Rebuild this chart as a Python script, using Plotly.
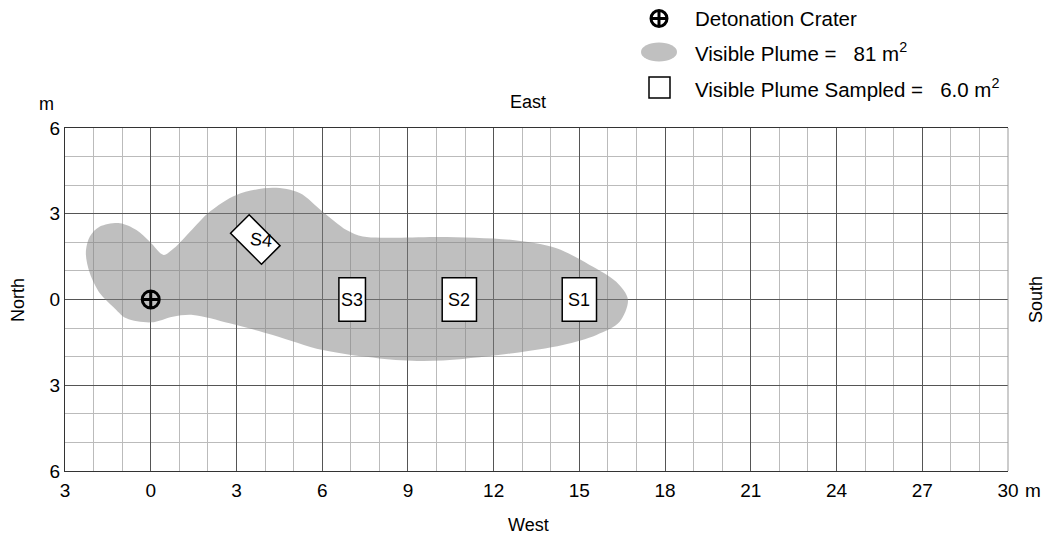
import numpy as np
import plotly.graph_objects as go

# ---------------- data ----------------
plume_x = [0.45, 0.80, 1.45, 2.06, 3.00, 4.27, 5.21, 6.02, 6.85, 7.42, 8.36, 10.10,
           12.67, 14.20, 15.36, 16.29, 16.70, 16.41, 15.60, 14.42, 12.67, 10.92,
           9.50, 8.00, 6.02, 4.27, 2.76, 1.48, 0.77, 0.02, -0.85, -1.32, -1.78,
           -2.13, -2.27, -2.13, -1.78, -1.08, -0.50, -0.03, 0.45]
plume_y = [1.56, 1.78, 2.45, 3.07, 3.66, 3.91, 3.73, 3.07, 2.43, 2.20, 2.16, 2.19,
           2.08, 1.79, 1.21, 0.62, 0.00, -0.78, -1.24, -1.59, -1.88, -2.08,
           -2.15, -2.06, -1.77, -1.24, -0.83, -0.54, -0.60, -0.80, -0.66, -0.25, 0.22,
           0.92, 1.62, 2.20, 2.55, 2.67, 2.43, 2.02, 1.56]

crater_x = [0.0]
crater_y = [0.0]

sample_names = ["S1", "S2", "S3", "S4"]
sample_cx = [15.0, 10.8, 7.05, 3.66]
sample_cy = [0.0, 0.0, 0.0, 2.10]
sample_w = [1.2, 1.2, 0.93, 0.92]
sample_h = [1.52, 1.52, 1.52, 1.53]
sample_rot = [0, 0, 0, 45]          # degrees, counter-clockwise
sample_label_x = [15.0, 10.8, 7.05, 3.87]
sample_label_y = [0.0, 0.0, 0.0, 2.07]
sample_textangle = [0, 0, 0, 6]

x_tickvals = list(range(-3, 31, 3))
x_ticktext = ["3", "0", "3", "6", "9", "12", "15", "18", "21", "24", "27", "30"]
y_tickvals = [-6, -3, 0, 3, 6]
y_ticktext = ["6", "3", "0", "3", "6"]

legend_labels = ["Detonation Crater",
                 "Visible Plume =\u00a0\u00a0 81 m<sup>2</sup>",
                 "Visible Plume Sampled =\u00a0\u00a0 6.0 m<sup>2</sup>"]

# ---------------- figure ----------------
FONT = "Liberation Sans, Arial, Helvetica, sans-serif"
W, H = 1045, 540
ML, MR, MT, MB = 65, 37, 128, 69
PW, PH = W - ML - MR, H - MT - MB


def px2paper(px, py):
    return (px - ML) / PW, (H - MB - py) / PH


fig = go.Figure()

fig.add_trace(go.Scatter(
    x=plume_x, y=plume_y, mode="lines", fill="toself",
    line=dict(shape="spline", smoothing=0.9, width=0, color="rgba(0,0,0,0)"),
    fillcolor="rgba(127,127,127,0.5)", hoverinfo="skip", showlegend=False))

fig.add_trace(go.Scatter(
    x=crater_x, y=crater_y, mode="markers",
    marker=dict(symbol="circle-cross-open", size=17, color="black",
                line=dict(width=3, color="black")),
    showlegend=False))

shapes = []
annotations = []

for name, cx, cy, w, h, rot, lx, ly, ta in zip(sample_names, sample_cx, sample_cy,
                                                sample_w, sample_h, sample_rot,
                                                sample_label_x, sample_label_y,
                                                sample_textangle):
    if rot == 0:
        shapes.append(dict(type="rect", xref="x", yref="y",
                           x0=cx - w / 2, x1=cx + w / 2,
                           y0=cy - h / 2, y1=cy + h / 2,
                           fillcolor="white", line=dict(color="black", width=1.5),
                           layer="above"))
    else:
        t = np.deg2rad(rot)
        corners = [(-w / 2, -h / 2), (w / 2, -h / 2), (w / 2, h / 2), (-w / 2, h / 2)]
        pts = [(cx + u * np.cos(t) - v * np.sin(t), cy + u * np.sin(t) + v * np.cos(t))
               for u, v in corners]
        path = "M " + " L ".join(f"{a:.4f},{b:.4f}" for a, b in pts) + " Z"
        shapes.append(dict(type="path", xref="x", yref="y", path=path,
                           fillcolor="white", line=dict(color="black", width=1.5),
                           layer="above"))
    annotations.append(dict(x=lx, y=ly, xref="x", yref="y", text=name,
                            showarrow=False, textangle=ta,
                            font=dict(family=FONT, size=18, color="black")))

# right border (light)
shapes.append(dict(type="line", xref="paper", yref="paper", x0=1, x1=1, y0=0, y1=1,
                   line=dict(color="#999999", width=1), layer="above"))

# ----- custom legend -----
ax, ay = px2paper(659, 18.5)
shapes.append(dict(type="circle", xref="paper", yref="paper", xsizemode="pixel",
                   ysizemode="pixel", xanchor=ax, yanchor=ay,
                   x0=-8, x1=8, y0=-8, y1=8, line=dict(color="black", width=3),
                   fillcolor="white"))
shapes.append(dict(type="line", xref="paper", yref="paper", xsizemode="pixel",
                   ysizemode="pixel", xanchor=ax, yanchor=ay,
                   x0=-8, x1=8, y0=0, y1=0, line=dict(color="black", width=3)))
shapes.append(dict(type="line", xref="paper", yref="paper", xsizemode="pixel",
                   ysizemode="pixel", xanchor=ax, yanchor=ay,
                   x0=0, x1=0, y0=-8, y1=8, line=dict(color="black", width=3)))
ax, ay = px2paper(659, 52)
shapes.append(dict(type="circle", xref="paper", yref="paper", xsizemode="pixel",
                   ysizemode="pixel", xanchor=ax, yanchor=ay,
                   x0=-18, x1=18, y0=-9.5, y1=9.5, line=dict(width=0),
                   fillcolor="#c0c0c0"))
ax, ay = px2paper(659.5, 87.5)
shapes.append(dict(type="rect", xref="paper", yref="paper", xsizemode="pixel",
                   ysizemode="pixel", xanchor=ax, yanchor=ay,
                   x0=-10.5, x1=10.5, y0=-10.5, y1=10.5,
                   line=dict(color="black", width=1.5), fillcolor="white"))

for lbl, py in zip(legend_labels, [18.5, 52, 88]):
    x, y = px2paper(693, py)
    annotations.append(dict(x=x, y=y, xref="paper", yref="paper", text=lbl,
                            showarrow=False, xanchor="left", yanchor="middle",
                            font=dict(family=FONT, size=20.5, color="black")))

# ----- axis words -----
def add_text(txt, px, py, angle=0, size=18):
    x, y = px2paper(px, py)
    annotations.append(dict(x=x, y=y, xref="paper", yref="paper", text=txt,
                            showarrow=False, textangle=angle,
                            xanchor="center", yanchor="middle",
                            font=dict(family=FONT, size=size, color="black")))

add_text("m", 46, 104)
add_text("East", 528, 102)
add_text("West", 528, 525)
add_text("North", 18, 300, angle=-90)
add_text("South", 1036, 300, angle=-90)
add_text("m", 1033, 490, size=19)

fig.update_layout(
    width=W, height=H, autosize=False,
    margin=dict(l=ML, r=MR, t=MT, b=MB, pad=0),
    paper_bgcolor="white", plot_bgcolor="white",
    shapes=shapes, annotations=annotations,
    showlegend=False,
    xaxis=dict(range=[-3, 30], tickvals=x_tickvals, ticktext=x_ticktext,
               showgrid=True, gridcolor="#555555", gridwidth=1,
               minor=dict(dtick=1, tick0=0, showgrid=True, gridcolor="#bbbbbb",
                          gridwidth=1),
               zeroline=False, showline=True, linecolor="#333333", linewidth=1,
               mirror=True, ticks="outside", ticklen=2,
               tickcolor="rgba(0,0,0,0)",
               tickfont=dict(family=FONT, size=19, color="black"), fixedrange=True),
    yaxis=dict(range=[-6, 6], tickvals=y_tickvals, ticktext=y_ticktext,
               showgrid=True, gridcolor="#555555", gridwidth=1,
               minor=dict(dtick=1, tick0=0, showgrid=True, gridcolor="#bbbbbb",
                          gridwidth=1),
               zeroline=False, showline=True, linecolor="#333333", linewidth=1,
               ticks="", ticklen=0,
               tickfont=dict(family=FONT, size=19, color="black"), fixedrange=True),
)

fig.write_html("out.html", config={"displayModeBar": False},
               post_script="document.body.style.margin='0px';document.body.style.padding='0px';")
